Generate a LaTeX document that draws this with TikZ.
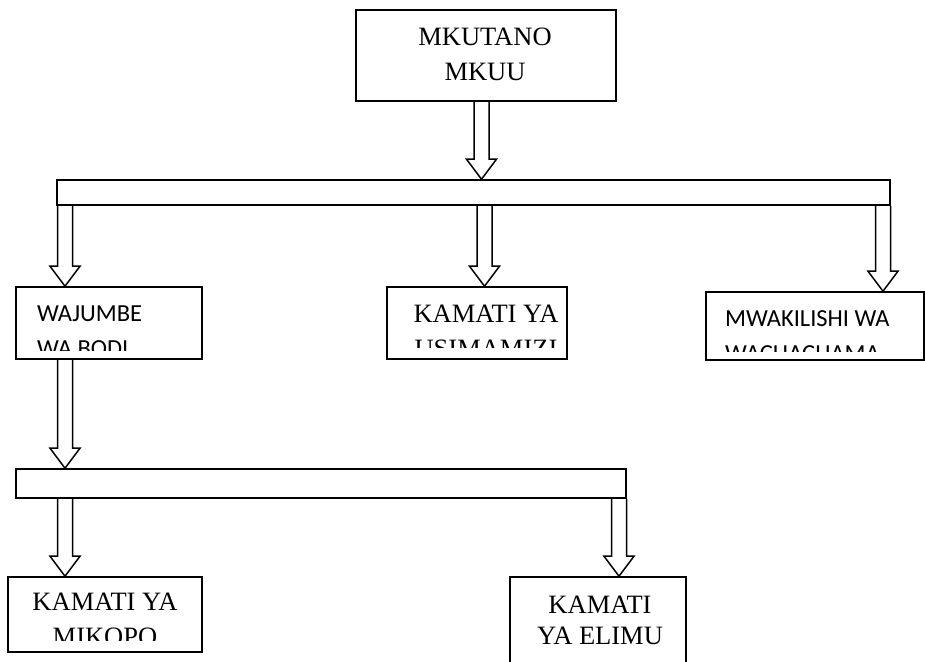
\documentclass[tikz,border=0pt]{standalone}
\usepackage{fontspec}
\setmainfont{Liberation Serif}
\newfontfamily\calibri{Carlito}
\usetikzlibrary{calc}

\begin{document}
\begin{tikzpicture}[
    x=1pt, y=-1pt,
    box/.style={rectangle, draw=black, line width=1.6pt, inner sep=0pt},
    bar/.style={box},
    txt/.style={inner sep=0pt, align=center, font=\fontsize{26.5}{35}\selectfont},
    sanstxt/.style={inner sep=0pt, align=left, font=\calibri\fontsize{24.5}{35}\selectfont},
    hollow/.style={draw=black, line width=1.5pt, line join=miter,
        to path={let \p1=(\tikztostart), \p2=(\tikztotarget) in
            (\x1-7.5pt,\y1) -- (\x1-7.5pt,\y2+20pt) -- (\x1-15pt,\y2+20pt) -- (\x2,\y2)
            -- (\x1+15pt,\y2+20pt) -- (\x1+7.5pt,\y2+20pt) -- (\x1+7.5pt,\y1)}}
]
\useasboundingbox (0,0) rectangle (925,661);

% boxes
\node[box, minimum width=260pt, minimum height=91pt] (mkutano) at (486,55.5) {};
\node[bar, minimum width=833pt, minimum height=25pt] (bar1) at (473.5,192.5) {};
\node[box, minimum width=186pt, minimum height=72pt] (wajumbe) at (109,323) {};
\node[box, minimum width=180pt, minimum height=72pt] (usimamizi) at (477,323) {};
\node[box, minimum width=218pt, minimum height=68pt] (mwakilishi) at (815,326) {};
\node[bar, minimum width=610pt, minimum height=29pt] (bar2) at (321,483.5) {};
\node[box, minimum width=194pt, minimum height=75pt] (mikopo) at (105,614.5) {};
\node[box, minimum width=176pt, minimum height=113pt] (elimu) at (598,633.5) {};

% texts
\node[txt, anchor=north] (mkutanotxt) at (485,28) {MKUTANO\\MKUU};
\begin{scope}
  \clip (wajumbe.north west) rectangle ([yshift=9pt]wajumbe.south east);
  \node[sanstxt, anchor=north west] (wajumbetxt) at (37,306) {WAJUMBE\\WA BODI};
\end{scope}
\begin{scope}
  \clip (usimamizi.north west) rectangle ([yshift=12pt]usimamizi.south east);
  \node[txt, anchor=north] (usimamizitxt) at (486,305) {KAMATI YA\\USIMAMIZI};
\end{scope}
\begin{scope}
  \clip (mwakilishi.north west) rectangle ([yshift=9pt]mwakilishi.south east);
  \node[sanstxt, anchor=north west] (mwakilishitxt) at (725,310) {MWAKILISHI WA\\WACHACHAMA};
\end{scope}
\begin{scope}
  \clip (mikopo.north west) rectangle ([yshift=12pt]mikopo.south east);
  \node[txt, anchor=north] (mikopotxt) at (105,593) {KAMATI YA\\MIKOPO};
\end{scope}
\node[txt, anchor=north, font=\fontsize{26.5}{31}\selectfont] (elimutxt) at (600,596) {KAMATI\\YA ELIMU};

% block arrows
\draw[hollow] (481.5,0 |- mkutano.south) to (481.5,0 |- bar1.north);
\draw[hollow] (65,0 |- bar1.south) to (65,0 |- wajumbe.north);
\draw[hollow] (484.5,0 |- bar1.south) to (484.5,0 |- usimamizi.north);
\draw[hollow] (883,0 |- bar1.south) to (883,0 |- mwakilishi.north);
\draw[hollow] (65,0 |- wajumbe.south) to (65,0 |- bar2.north);
\draw[hollow] (65,0 |- bar2.south) to (65,0 |- mikopo.north);
\draw[hollow] (619,0 |- bar2.south) to (619,0 |- elimu.north);

\end{tikzpicture}
\end{document}
